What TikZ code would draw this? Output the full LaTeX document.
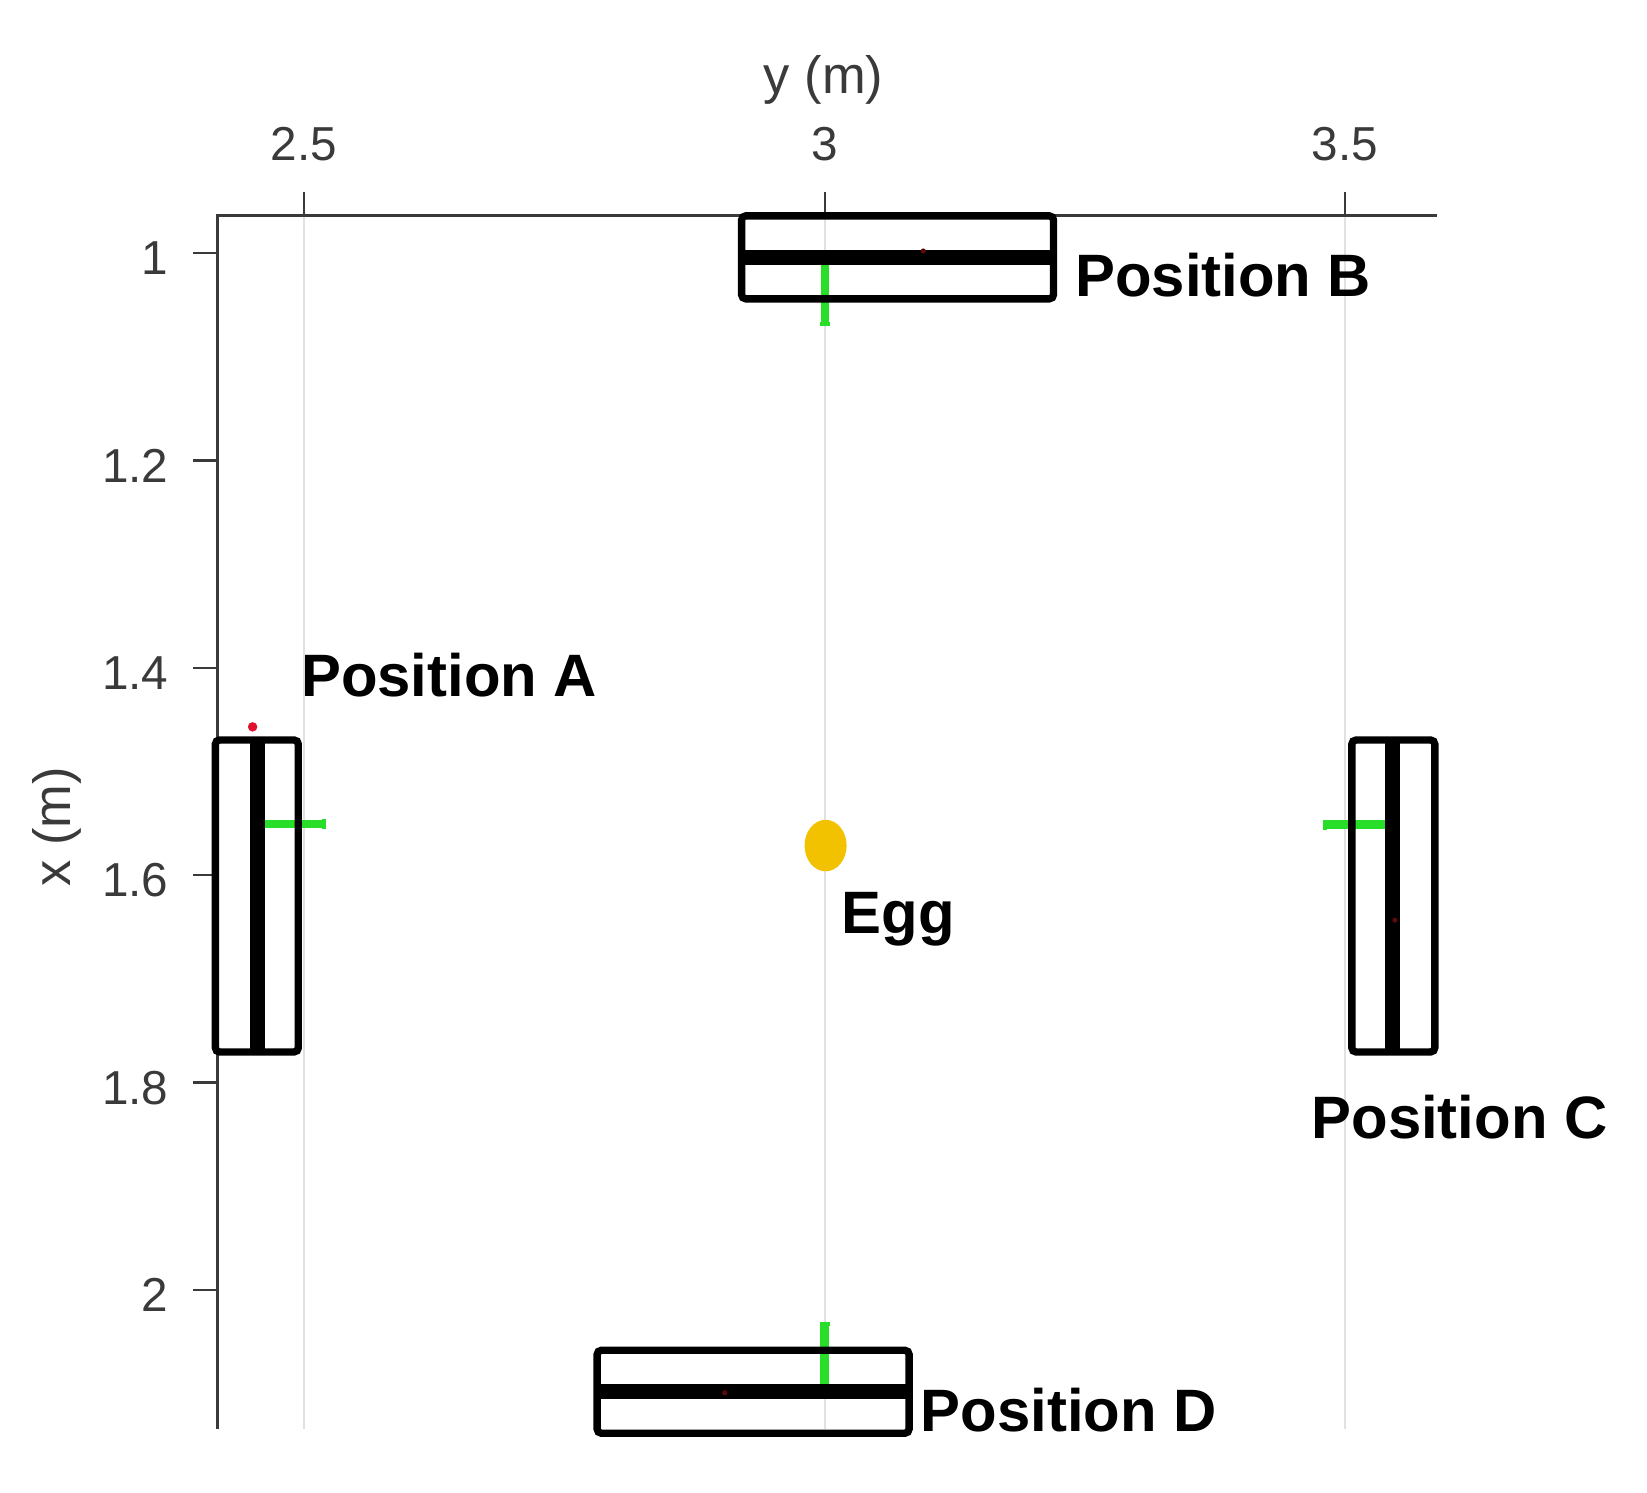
\documentclass[tikz,border=0pt]{standalone}
\usepackage{fontspec}
\setmainfont{Liberation Sans}
\usetikzlibrary{arrows.meta}
\definecolor{axisgray}{HTML}{3A3A3A}
\definecolor{gridgray}{HTML}{E1E1E1}
\definecolor{sensorgreen}{HTML}{28DE28}
\definecolor{egggold}{HTML}{F2C200}
\definecolor{dotred}{HTML}{E0102F}
\definecolor{darkdot}{HTML}{5A0A0A}
\tikzset{
  axisline/.style={draw=axisgray, line width=0.025cm},
  gridline/.style={draw=gridgray, line width=0.02cm},
  ticklab/.style={text=axisgray, inner sep=0pt, font=\fontsize{12.9}{13}\selectfont},
  axislab/.style={text=axisgray, inner sep=0pt, font=\fontsize{14.2}{15}\selectfont},
  poslab/.style={text=black, inner sep=0pt, font=\fontsize{16.2}{17}\selectfont\bfseries, anchor=base west},
  barframe/.style={draw=black, line width=0.07cm, rounded corners=0.04cm},
  barcore/.style={draw=black, line width=0.14cm},
  greenmark/.style={draw=sensorgreen, line width=0.08cm, -{Rectangle[length=0.03cm,width=0.095cm]}},
}
\begin{document}
\begin{tikzpicture}[x=0.01cm, y=-0.01cm]
\useasboundingbox[fill=white] (0,0) rectangle (1568,1421);
% grid
\foreach \gx in {289.4,785.5,1280.5} {
  \draw[gridline] (\gx,205) -- (\gx,1360);
}
% axes
\draw[axisline] (1368,205) -- (207,205) -- (207,1360);
\foreach \gx in {289.4,785.5,1280.5} {
  \draw[axisline] (\gx,205) -- (\gx,183);
}
\foreach \gy in {241,438.4,635.8,833.2,1030.6,1228} {
  \draw[axisline] (207,\gy) -- (184,\gy);
}
% tick labels
\node[ticklab, anchor=south] (ty1) at (289.4,154) {2.5};
\node[ticklab, anchor=south] (ty2) at (785.5,154) {3};
\node[ticklab, anchor=south] (ty3) at (1280.5,154) {3.5};
\node[ticklab, anchor=east] (tx1) at (161,246) {1};
\node[ticklab, anchor=east] (tx2) at (161,443.4) {1.2};
\node[ticklab, anchor=east] (tx3) at (161,640.8) {1.4};
\node[ticklab, anchor=east] (tx4) at (161,838.2) {1.6};
\node[ticklab, anchor=east] (tx5) at (161,1035.6) {1.8};
\node[ticklab, anchor=east] (tx6) at (161,1233) {2};
\node[axislab, anchor=base] (ylab) at (784,89) {y (m)};
\node[axislab, anchor=base, rotate=90] (xlab) at (67,787) {x (m)};
% green direction marks (under the bars)
\draw[greenmark] (785.5,246) -- (785.5,310);
\draw[greenmark] (785,1323) -- (785,1259);
\draw[greenmark] (246,784.5) -- (310,784.5);
\draw[greenmark] (1325,785) -- (1260,785);
% Position B
\draw[barframe] (706,205.5) rectangle (1003,284.5);
\draw[barcore] (706,245) -- (1003,245);
\fill[darkdot] (879,239) circle [radius=0.025cm];
% Position D
\draw[barframe] (568.5,1285.5) rectangle (865.5,1364.5);
\draw[barcore] (568.5,1324.5) -- (865.5,1324.5);
\fill[darkdot] (690,1326) circle [radius=0.025cm];
% Position A
\draw[barframe] (205,704.5) rectangle (284,1001.5);
\draw[barcore] (245,704.5) -- (245,1001.5);
\fill[dotred] (240.5,692) circle [radius=0.045cm];
% Position C
\draw[barframe] (1287,704.5) rectangle (1366,1001.5);
\draw[barcore] (1326,704.5) -- (1326,1001.5);
\fill[darkdot] (1328,876) circle [radius=0.025cm];
% Egg
\fill[egggold] (786,805) ellipse [x radius=0.2cm, y radius=0.245cm];
% labels
\node[poslab] (labA) at (286,663) {Position A};
\node[poslab] (labB) at (1023,282.4) {Position B};
\node[poslab] (labC) at (1248,1083.5) {Position C};
\node[poslab] (labD) at (876,1363) {Position D};
\node[poslab] (labE) at (800.5,888.5) {Egg};
\end{tikzpicture}
\end{document}
